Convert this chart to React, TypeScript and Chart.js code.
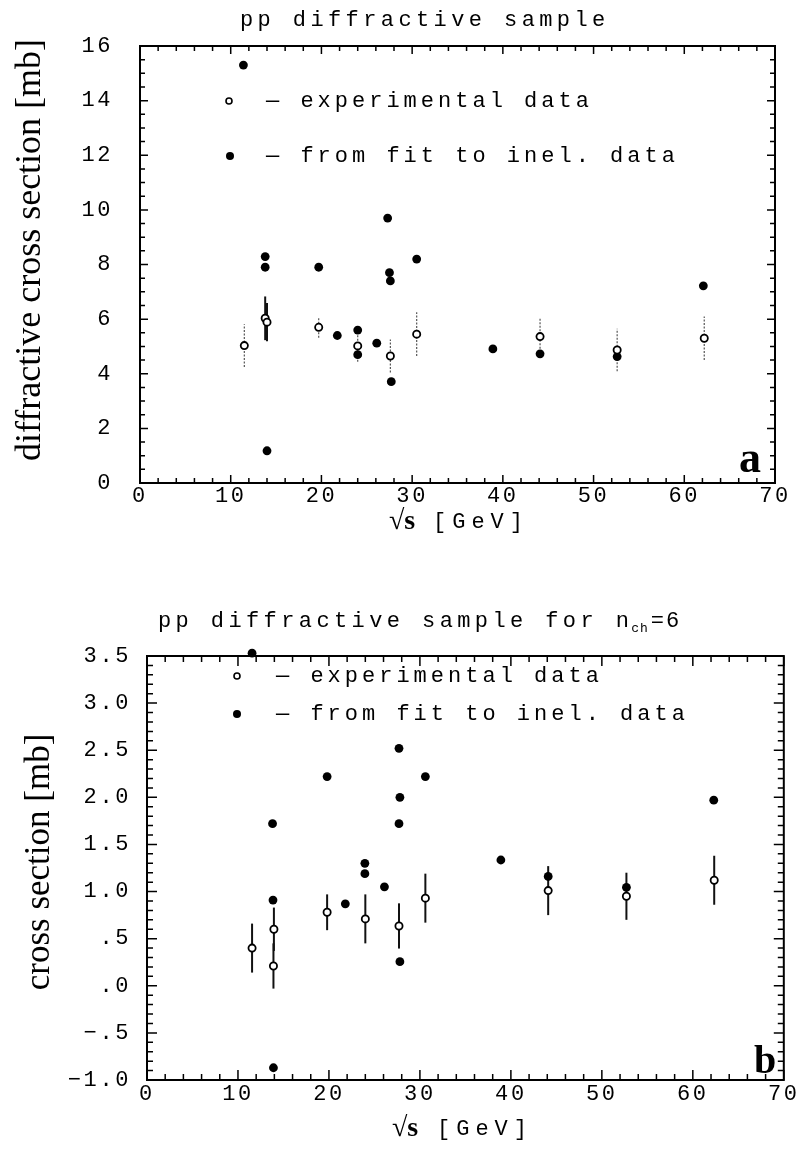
import React, { useEffect, useRef } from 'react';
import { Chart, registerables } from 'chart.js';

Chart.register(...registerables);

// ---------- Panel a : pp diffractive sample ----------
const expXA = [11.5, 13.8, 14.0, 19.7, 24.0, 27.6, 30.5, 44.1, 52.6, 62.2];
const expYA = [5.03, 6.03, 5.89, 5.7, 5.02, 4.65, 5.45, 5.36, 4.87, 5.3];
const expErrA = [0.78, 0.8, 0.7, 0.38, 0.58, 0.6, 0.8, 0.7, 0.78, 0.8];
const fitXA = [11.4, 13.8, 13.8, 14.0, 19.7, 21.75, 24.0, 24.0, 26.1, 27.3, 27.5, 27.6, 27.7, 30.5, 38.9, 44.1, 52.6, 62.1];
const fitYA = [15.3, 8.29, 7.9, 1.18, 7.9, 5.4, 5.6, 4.7, 5.12, 9.7, 7.7, 7.4, 3.71, 8.2, 4.91, 4.73, 4.63, 7.22];
const xTickLabels = ['0', '10', '20', '30', '40', '50', '60', '70'];
const yTickLabelsA = ['0', '2', '4', '6', '8', '10', '12', '14', '16'];

// ---------- Panel b : pp diffractive sample for n_ch = 6 ----------
const expXB = [11.55, 13.95, 13.9, 19.8, 24.0, 27.7, 30.6, 44.1, 52.7, 62.35];
const expYB = [0.4, 0.6, 0.21, 0.78, 0.71, 0.635, 0.93, 1.01, 0.95, 1.12];
const expErrB = [0.26, 0.23, 0.24, 0.19, 0.26, 0.24, 0.26, 0.26, 0.25, 0.26];
const fitXB = [11.55, 13.8, 13.85, 13.9, 19.8, 21.8, 23.95, 23.95, 26.1, 27.7, 27.8, 27.7, 27.8, 30.6, 38.9, 44.1, 52.7, 62.3];
const fitYB = [3.53, 1.72, 0.91, -0.87, 2.22, 0.87, 1.3, 1.19, 1.05, 2.52, 2.0, 1.72, 0.256, 2.22, 1.335, 1.16, 1.045, 1.97];
const yTickLabelsB = ['\u22121.0', '\u2212.5', '.0', '.5', '1.0', '1.5', '2.0', '2.5', '3.0', '3.5'];

const legendLabels = ['experimental data', 'from fit to inel. data'];

const MONO = '"Liberation Mono", "DejaVu Sans Mono", monospace';
const SERIF = '"Liberation Serif", "DejaVu Serif", serif';

type Panel = {
  height: number;
  top: number;
  padTop: number;
  padRight: number;
  yAxisW: number;
  xAxisH: number;
  yPad: number;
  xPad: number;
  yMin: number;
  yMax: number;
  yStep: number;
  yMinor: number;
  yMajorEvery: number;
  yLabel: (v: number) => string;
  expX: number[];
  expY: number[];
  expErr: number[];
  fitX: number[];
  fitY: number[];
  errStyle: (i: number) => { color: string; width: number; dash: number[] };
  majorLen: number;
  minorLen: number;
  drawText: (ctx: CanvasRenderingContext2D, chart: any) => void;
};

function txt(
  ctx: CanvasRenderingContext2D,
  s: string,
  x: number,
  y: number,
  font: string,
  spacing = '0px',
  align: CanvasTextAlign = 'left',
  baseline: CanvasTextBaseline = 'alphabetic'
) {
  ctx.save();
  ctx.font = font;
  (ctx as any).letterSpacing = spacing;
  ctx.textAlign = align;
  ctx.textBaseline = baseline;
  ctx.fillStyle = '#000';
  ctx.fillText(s, x, y);
  const w = ctx.measureText(s).width;
  ctx.restore();
  return w;
}

function rotText(ctx: CanvasRenderingContext2D, s: string, x: number, y: number, font: string) {
  ctx.save();
  ctx.translate(x, y);
  ctx.rotate(-Math.PI / 2);
  ctx.font = font;
  (ctx as any).letterSpacing = '0px';
  ctx.textAlign = 'center';
  ctx.textBaseline = 'middle';
  ctx.fillStyle = '#000';
  ctx.fillText(s, 0, 0);
  ctx.restore();
}

function marker(ctx: CanvasRenderingContext2D, x: number, y: number, r: number, filled: boolean) {
  ctx.save();
  ctx.beginPath();
  ctx.arc(x, y, r, 0, Math.PI * 2);
  if (filled) {
    ctx.fillStyle = '#000';
    ctx.fill();
  } else {
    ctx.fillStyle = '#fff';
    ctx.fill();
    ctx.lineWidth = 1.6;
    ctx.strokeStyle = '#000';
    ctx.stroke();
  }
  ctx.restore();
}

function decorPlugin(p: Panel) {
  return {
    id: 'decor',
    beforeDraw(chart: any) {
      (chart.ctx as any).letterSpacing = '2.6px';
    },
    beforeDatasetsDraw(chart: any) {
      const ctx: CanvasRenderingContext2D = chart.ctx;
      const xs = chart.scales.x;
      const ys = chart.scales.y;
      const a = chart.chartArea;
      ctx.save();
      // error bars
      p.expX.forEach((x, i) => {
        const px = xs.getPixelForValue(x);
        const y1 = ys.getPixelForValue(p.expY[i] - p.expErr[i]);
        const y2 = ys.getPixelForValue(p.expY[i] + p.expErr[i]);
        const st = p.errStyle(i);
        ctx.strokeStyle = st.color;
        ctx.lineWidth = st.width;
        ctx.setLineDash(st.dash);
        ctx.beginPath();
        ctx.moveTo(px, y1);
        ctx.lineTo(px, y2);
        ctx.stroke();
      });
      ctx.setLineDash([]);
      // frame
      ctx.strokeStyle = '#000';
      ctx.lineWidth = 2;
      ctx.strokeRect(a.left, a.top, a.right - a.left, a.bottom - a.top);
      // inward ticks
      ctx.lineWidth = 1.5;
      ctx.beginPath();
      for (let v = 0; v <= 70.001; v += 2) {
        const px = xs.getPixelForValue(v);
        const L = Math.abs(v % 10) < 1e-6 ? p.majorLen : p.minorLen;
        ctx.moveTo(px, a.bottom);
        ctx.lineTo(px, a.bottom - L);
        ctx.moveTo(px, a.top);
        ctx.lineTo(px, a.top + L);
      }
      const n = Math.round((p.yMax - p.yMin) / p.yMinor);
      for (let k = 0; k <= n; k++) {
        const v = p.yMin + k * p.yMinor;
        const py = ys.getPixelForValue(v);
        const L = k % p.yMajorEvery === 0 ? p.majorLen : p.minorLen;
        ctx.moveTo(a.left, py);
        ctx.lineTo(a.left + L, py);
        ctx.moveTo(a.right, py);
        ctx.lineTo(a.right - L, py);
      }
      ctx.stroke();
      ctx.restore();
    },
    afterDraw(chart: any) {
      p.drawText(chart.ctx, chart);
    },
  };
}

const panelA: Panel = {
  height: 560,
  top: 0,
  padTop: 46,
  padRight: 25,
  yAxisW: 140,
  xAxisH: 77,
  yPad: 27,
  xPad: 2,
  yMin: 0,
  yMax: 16,
  yStep: 2,
  yMinor: 0.5,
  yMajorEvery: 4,
  yLabel: (v) => yTickLabelsA[Math.round(v / 2)] ?? '',
  expX: expXA,
  expY: expYA,
  expErr: expErrA,
  fitX: fitXA,
  fitY: fitYA,
  errStyle: (i) =>
    i === 1 || i === 2
      ? { color: '#111', width: 2, dash: [] }
      : { color: '#555', width: 1.2, dash: [2, 1.5] },
  majorLen: 8,
  minorLen: 5,
  drawText: (ctx) => {
    txt(ctx, 'pp diffractive sample', 240, 26, `22px ${MONO}`, '4.4px');
    rotText(ctx, 'diffractive cross section [mb]', 31, 250, `36px ${SERIF}`);
    // legend
    marker(ctx, 229, 101, 3, false);
    txt(ctx, '\u2014 ' + legendLabels[0], 266, 101, `22px ${MONO}`, '4px', 'left', 'middle');
    marker(ctx, 230, 156, 4, true);
    txt(ctx, '\u2014 ' + legendLabels[1], 266, 156, `22px ${MONO}`, '4px', 'left', 'middle');
    // x label
    txt(ctx, '\u221As', 389, 529, `bold 28px ${SERIF}`);
    txt(ctx, '[GeV]', 433, 528, `22px ${MONO}`, '6px');
    // panel letter
    txt(ctx, 'a', 739, 472, `bold 44px ${SERIF}`);
  },
};

const panelB: Panel = {
  height: 592,
  top: 560,
  padTop: 96,
  padRight: 15,
  yAxisW: 147,
  xAxisH: 72,
  yPad: 16,
  xPad: 3,
  yMin: -1,
  yMax: 3.5,
  yStep: 0.5,
  yMinor: 0.1,
  yMajorEvery: 5,
  yLabel: (v) => yTickLabelsB[Math.round((v + 1) * 2)] ?? '',
  expX: expXB,
  expY: expYB,
  expErr: expErrB,
  fitX: fitXB,
  fitY: fitYB,
  errStyle: () => ({ color: '#111', width: 2, dash: [] }),
  majorLen: 10,
  minorLen: 6,
  drawText: (ctx) => {
    let x = 158;
    x += txt(ctx, 'pp diffractive sample for n', x, 67, `22px ${MONO}`, '4.4px');
    x += txt(ctx, 'ch', x - 2, 72, `13px ${MONO}`, '1px');
    txt(ctx, '=6', x, 67, `22px ${MONO}`, '2px');
    rotText(ctx, 'cross section [mb]', 40, 302, `35px ${SERIF}`);
    marker(ctx, 237, 116, 3, false);
    txt(ctx, '\u2014 ' + legendLabels[0], 276, 116, `22px ${MONO}`, '4px', 'left', 'middle');
    marker(ctx, 237, 154, 4, true);
    txt(ctx, '\u2014 ' + legendLabels[1], 276, 154, `22px ${MONO}`, '4px', 'left', 'middle');
    txt(ctx, '\u221As', 392, 576, `bold 28px ${SERIF}`);
    txt(ctx, '[GeV]', 437, 575, `22px ${MONO}`, '6px');
    txt(ctx, 'b', 754, 513, `bold 40px ${SERIF}`);
  },
};

function PanelChart({ p }: { p: Panel }) {
  const ref = useRef<HTMLCanvasElement | null>(null);
  useEffect(() => {
    if (!ref.current) return;
    const chart = new Chart(ref.current, {
      type: 'scatter',
      data: {
        datasets: [
          {
            label: legendLabels[0],
            data: p.expX.map((x, i) => ({ x, y: p.expY[i] })),
            pointRadius: 3.6,
            pointBorderWidth: 1.8,
            pointBackgroundColor: '#fff',
            pointBorderColor: '#000',
            backgroundColor: '#fff',
            borderColor: '#000',
            clip: false as any,
          },
          {
            label: legendLabels[1],
            data: p.fitX.map((x, i) => ({ x, y: p.fitY[i] })),
            pointRadius: 4.4,
            pointBorderWidth: 0,
            pointBackgroundColor: '#000',
            pointBorderColor: '#000',
            backgroundColor: '#000',
            borderColor: '#000',
            clip: false as any,
          },
        ],
      },
      options: {
        responsive: false,
        animation: false,
        devicePixelRatio: 1,
        events: [],
        layout: { padding: { left: 0, right: p.padRight, top: p.padTop, bottom: 0 } },
        plugins: {
          legend: { display: false },
          tooltip: { enabled: false },
          title: { display: false },
        },
        scales: {
          x: {
            type: 'linear',
            min: 0,
            max: 70,
            afterFit: (s: any) => {
              s.height = p.xAxisH;
            },
            grid: { display: false, drawTicks: false },
            border: { display: false },
            ticks: {
              stepSize: 10,
              autoSkip: false,
              maxRotation: 0,
              padding: p.xPad,
              color: '#000',
              font: { family: MONO, size: 22, lineHeight: 1 },
              callback: (v: any) => xTickLabels[Math.round(Number(v) / 10)] ?? '',
            },
          },
          y: {
            type: 'linear',
            min: p.yMin,
            max: p.yMax,
            afterFit: (s: any) => {
              s.width = p.yAxisW;
            },
            grid: { display: false, drawTicks: false },
            border: { display: false },
            ticks: {
              stepSize: p.yStep,
              autoSkip: false,
              padding: p.yPad,
              color: '#000',
              font: { family: MONO, size: 22, lineHeight: 1 },
              callback: (v: any) => p.yLabel(Number(v)),
            },
          },
        },
      },
      plugins: [decorPlugin(p)],
    });
    return () => chart.destroy();
  }, [p]);
  return (
    <canvas
      ref={ref}
      width={800}
      height={p.height}
      style={{ position: 'absolute', left: 0, top: p.top, width: 800, height: p.height }}
    />
  );
}

export default function App() {
  return (
    <div style={{ position: 'absolute', left: 0, top: 0, width: 800, height: 1152, background: '#fff' }}>
      <PanelChart p={panelA} />
      <PanelChart p={panelB} />
    </div>
  );
}
